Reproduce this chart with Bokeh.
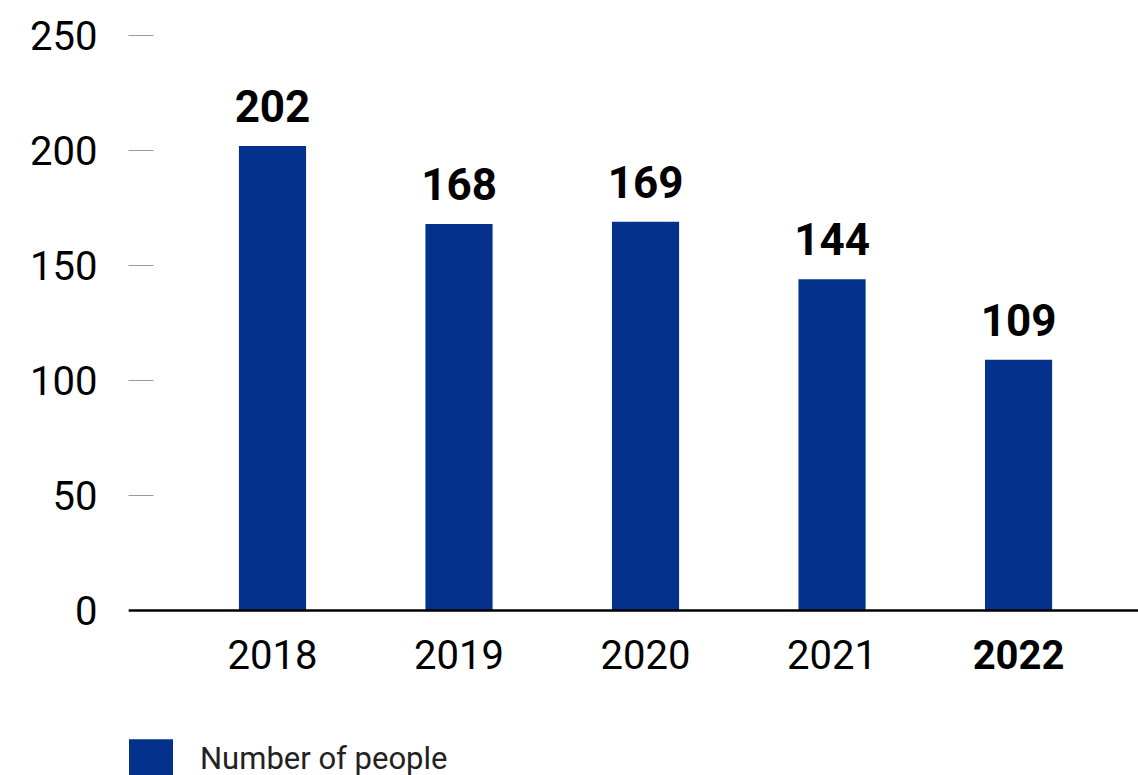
from bokeh.plotting import figure
from bokeh.models import Range1d, FixedTicker, Span, Legend, LegendItem, ColumnDataSource
from bokeh.core.properties import value
from bokeh.embed import file_html
from bokeh.resources import INLINE

years = ["2018", "2019", "2020", "2021", "2022"]
people = [202, 168, 169, 144, 109]
year_styles = ["normal", "normal", "normal", "normal", "bold"]
y_ticks = [0, 50, 100, 150, 200, 250]
series_name = "Number of people"

BAR = "#03318C"
FONT = "Roboto"

xs = list(range(len(years)))
src = ColumnDataSource(dict(x=xs, top=people, year=years, style=year_styles,
                            label=[str(v) for v in people], zero=[0] * len(xs)))

p = figure(width=1138, height=775, output_backend="svg", toolbar_location=None,
           x_range=Range1d(-0.772, 4.643), y_range=Range1d(-71.7, 265.2),
           x_axis_location=None, min_border_left=128, min_border_right=0,
           min_border_top=0, min_border_bottom=0)
p.outline_line_color = None
p.grid.visible = False
p.background_fill_color = "white"
p.border_fill_color = "white"

bars = p.vbar(x="x", top="top", bottom=0, width=0.36, source=src,
              fill_color=BAR, line_color=None)

p.add_layout(Span(location=0, dimension="width", line_color="black", line_width=2.5))

ax = p.yaxis[0]
ax.ticker = FixedTicker(ticks=y_ticks)
ax.axis_line_color = None
ax.major_tick_in = 25
ax.major_tick_out = 0
ax.major_tick_line_color = "#999999"
ax.major_tick_line_width = 1.2
ax.minor_tick_line_color = None
ax.major_label_standoff = 31
ax.major_label_text_font = FONT
ax.major_label_text_font_size = "40px"
ax.major_label_text_color = "black"

# value labels
p.text(x="x", y="top", text="label", source=src, text_align="center",
       text_baseline="alphabetic", y_offset=-40, text_font=value(FONT),
       text_font_size="44px", text_font_style="bold", text_color="black")

# year labels
p.text(x="x", y="zero", text="year", source=src, text_align="center",
       text_baseline="alphabetic", y_offset=44, text_font=value(FONT),
       text_font_size="40px", text_font_style="style", text_color="black")

legend = Legend(items=[LegendItem(label=series_name, renderers=[bars])],
                location=(-5, -7), padding=0, margin=0, spacing=0,
                glyph_width=55, glyph_height=48, label_height=48,
                label_standoff=22, label_text_font=FONT,
                label_text_font_size="31px", label_text_color="#222222",
                border_line_color=None, background_fill_alpha=0)
p.add_layout(legend)

open("out.html", "w").write(file_html(p, INLINE))
